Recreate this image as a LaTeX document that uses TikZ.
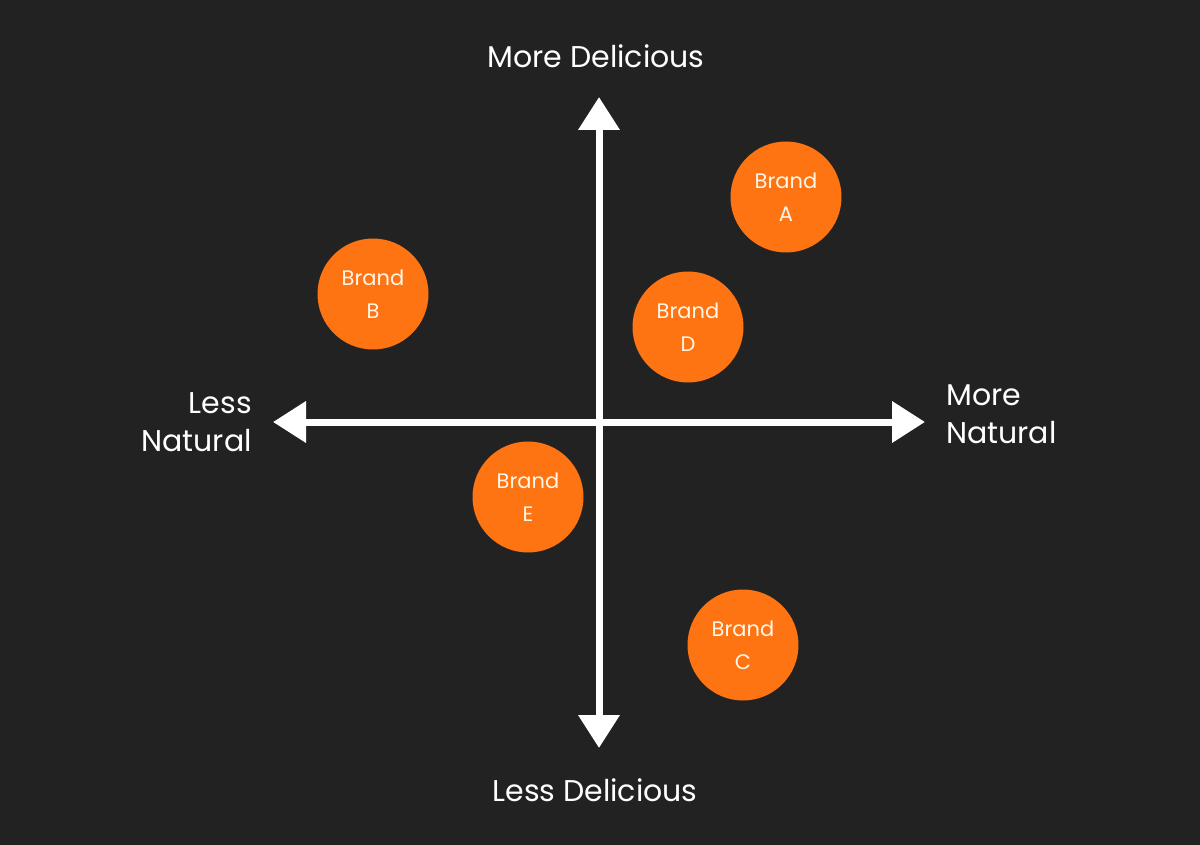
\documentclass[tikz,border=0pt]{standalone}
\usepackage{fontspec}
\setmainfont{Poppins}
\usetikzlibrary{arrows.meta}
\definecolor{bg}{HTML}{222222}
\definecolor{brandorange}{HTML}{FF7412}
\definecolor{cream}{HTML}{FFF6EA}
\tikzset{
  brand/.style={circle, fill=brandorange, minimum size=111pt, inner sep=0pt,
    text=cream, font=\fontsize{21}{33}\selectfont, align=center},
  axislabel/.style={text=white, font=\fontsize{30}{38}\selectfont, inner sep=0pt},
  axis/.style={draw=white, line width=7pt,
    {Triangle[length=33pt,width=40pt]}-{Triangle[length=33pt,width=40pt]}}
}
\begin{document}
\begin{tikzpicture}[x=1pt,y=-1pt]
\fill[bg] (0,0) rectangle (1200,845);
\useasboundingbox (0,0) rectangle (1200,845);
\coordinate (top) at (599,97);
\coordinate (bottom) at (599,748);
\coordinate (left) at (273,422);
\coordinate (right) at (925,422);
\draw[axis] (bottom) -- (top);
\draw[axis] (left) -- (right);
\node[axislabel] (moredel) at (596,56) {More Delicious};
\node[axislabel] (lessdel) at (595,790) {Less Delicious};
\node[axislabel, align=right, anchor=east] (lessnat) at (252,422) {Less\\Natural};
\node[axislabel, align=left, anchor=west] (morenat) at (946,414) {More\\Natural};
\node[brand] (A) at (786,197) {Brand\\A};
\node[brand] (B) at (373,294) {Brand\\B};
\node[brand] (D) at (688,327) {Brand\\D};
\node[brand] (E) at (528,497) {Brand\\E};
\node[brand] (C) at (743,645) {Brand\\C};
\end{tikzpicture}
\end{document}
